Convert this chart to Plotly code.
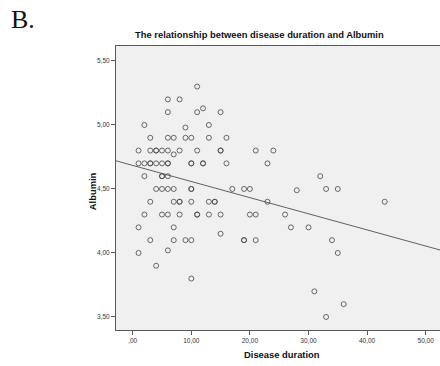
import plotly.graph_objects as go

# Disease duration (years) and serum albumin for each patient
duration = [
    11,
    6, 8,
    6, 11, 15,
    12,
    2, 13,
    9,
    3, 6, 7, 9, 10, 13, 16,
    1, 3, 4, 4, 5, 6, 8, 11, 15, 15, 21, 24,
    7,
    1, 2, 3, 3, 4, 5, 6, 6, 10, 10, 12, 12, 16, 23,
    2, 5, 5, 6, 32,
    4, 5, 6, 7, 10, 10, 17, 19, 20, 28, 33, 35,
    3, 7, 8, 8, 10, 13, 14, 14, 23, 43,
    2, 5, 6, 8, 11, 11, 13, 15, 20, 21, 26,
    1, 7, 27, 30,
    15,
    3, 7, 9, 10, 19, 19, 21, 34,
    6,
    1, 35,
    4,
    10,
    31,
    36,
    33,
]
albumin = [
    5.30,
    5.20, 5.20,
    5.10, 5.10, 5.10,
    5.13,
    5.00, 5.00,
    4.98,
    4.90, 4.90, 4.90, 4.90, 4.90, 4.90, 4.90,
    4.80, 4.80, 4.80, 4.80, 4.80, 4.80, 4.80, 4.80, 4.80, 4.80, 4.80, 4.80,
    4.77,
    4.70, 4.70, 4.70, 4.70, 4.70, 4.70, 4.70, 4.70, 4.70, 4.70, 4.70, 4.70, 4.70, 4.70,
    4.60, 4.60, 4.60, 4.60, 4.60,
    4.50, 4.50, 4.50, 4.50, 4.50, 4.50, 4.50, 4.50, 4.50, 4.49, 4.50, 4.50,
    4.40, 4.40, 4.40, 4.40, 4.40, 4.40, 4.40, 4.40, 4.40, 4.40,
    4.30, 4.30, 4.30, 4.30, 4.30, 4.30, 4.30, 4.30, 4.30, 4.30, 4.30,
    4.20, 4.20, 4.20, 4.20,
    4.15,
    4.10, 4.10, 4.10, 4.10, 4.10, 4.10, 4.10, 4.10,
    4.02,
    4.00, 4.00,
    3.90,
    3.80,
    3.70,
    3.60,
    3.50,
]

# Linear fit line (intercept, slope)
fit_intercept = 4.684
fit_slope = -0.0126

x_ticks = [0, 10, 20, 30, 40, 50]
x_tick_labels = [",00", "10,00", "20,00", "30,00", "40,00", "50,00"]
y_ticks = [3.5, 4.0, 4.5, 5.0, 5.5]
y_tick_labels = ["3,50", "4,00", "4,50", "5,00", "5,50"]

x_range = [-2.85, 52.44]
y_range = [3.398, 5.617]

fig = go.Figure()

fig.add_trace(go.Scatter(
    x=x_range,
    y=[fit_intercept + fit_slope * v for v in x_range],
    mode="lines",
    line=dict(color="#606060", width=1),
    hoverinfo="skip",
    showlegend=False,
))

fig.add_trace(go.Scatter(
    x=duration,
    y=albumin,
    mode="markers",
    marker=dict(symbol="circle-open", size=5,
                color="rgba(70,70,70,0.8)", line=dict(width=1)),
    showlegend=False,
))

axis_font = dict(family="Liberation Sans, Arial", size=6.5, color="#333333")

fig.update_xaxes(
    range=x_range, tickvals=x_ticks, ticktext=x_tick_labels,
    showgrid=False, zeroline=False,
    showline=True, linecolor="#5a5a5a", linewidth=1, mirror=True,
    ticks="outside", ticklen=4, tickcolor="#5a5a5a", tickwidth=1,
    tickfont=axis_font,
)
fig.update_yaxes(
    range=y_range, tickvals=y_ticks, ticktext=y_tick_labels,
    showgrid=False, zeroline=False,
    showline=True, linecolor="#5a5a5a", linewidth=1, mirror=True,
    ticks="outside", ticklen=4, tickcolor="#5a5a5a", tickwidth=1,
    tickfont=axis_font,
)

fig.update_layout(
    width=440, height=366,
    margin=dict(l=116, r=0, t=46, b=36),
    plot_bgcolor="#f0f0f0",
    paper_bgcolor="white",
    annotations=[
        dict(text="B.", xref="paper", yref="paper", x=-0.33, y=1.095,
             xanchor="left", yanchor="middle", showarrow=False,
             font=dict(family="Liberation Serif, Times New Roman", size=26, color="#111111")),
        dict(text="<b>The relationship between disease duration and Albumin</b>",
             xref="paper", yref="paper", x=0.444, y=1.042,
             xanchor="center", yanchor="middle", showarrow=False,
             font=dict(family="Liberation Sans, Arial", size=9.4, color="#111111")),
        dict(text="<b>Disease duration</b>", xref="paper", yref="paper",
             x=0.512, y=-0.085, xanchor="center", yanchor="middle", showarrow=False,
             font=dict(family="Liberation Sans, Arial", size=9.4, color="#111111")),
        dict(text="<b>Albumin</b>", xref="paper", yref="paper",
             x=-0.074, y=0.489, xanchor="center", yanchor="middle", showarrow=False,
             textangle=-90,
             font=dict(family="Liberation Sans, Arial", size=9.4, color="#111111")),
    ],
)

fig.write_html("out.html")
